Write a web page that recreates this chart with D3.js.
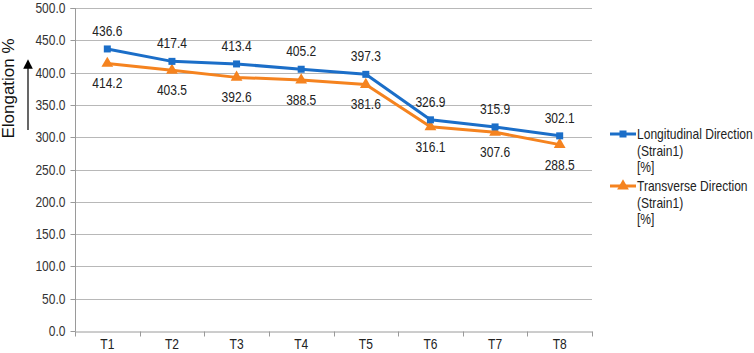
<!DOCTYPE html>
<html><head><meta charset="utf-8">
<script src="https://cdn.jsdelivr.net/npm/d3@7"></script>
<style>body{margin:0;background:#fff}svg{display:block}text{font-family:"Liberation Sans",Arial,sans-serif}</style>
</head><body><svg id="c" width="754" height="353"></svg>
<script>
const categories = ["T1","T2","T3","T4","T5","T6","T7","T8"];
const longitudinal = [436.6,417.4,413.4,405.2,397.3,326.9,315.9,302.1];
const transverse = [414.2,403.5,392.6,388.5,381.6,316.1,307.6,288.5];
const yTicks = [0,50,100,150,200,250,300,350,400,450,500];
const seriesNames = [["Longitudinal Direction","(Strain1)","[%]"],["Transverse Direction","(Strain1)","[%]"]];

const FONT = "Liberation Sans, Arial, sans-serif";
const SX = 0.86;
const svg = d3.select("#c");
const L=75, R=592, T=8, B=331;
const x = d3.scaleBand().domain(categories).range([L,R]);
const y = d3.scaleLinear().domain([0,500]).range([B,T]);
const blue="#1b6ec8", orange="#f5831f";

function ntext(parent, px, py, str, anchor){
  return parent.append("text").attr("transform",`translate(${px},${py}) scale(${SX},1)`)
    .attr("text-anchor",anchor||"start").attr("font-size",14).attr("fill","#222")
    .attr("font-family",FONT).text(str);
}

// grid
svg.append("g").selectAll("line").data(yTicks.filter(d=>d>0)).join("line")
  .attr("x1",L).attr("x2",R).attr("y1",d=>Math.round(y(d))+0.5).attr("y2",d=>Math.round(y(d))+0.5)
  .attr("stroke","#b8b8b8").attr("stroke-width",1);

// y axis
const ya = svg.append("g").attr("transform",`translate(${L+0.5},0)`)
  .call(d3.axisLeft(y).tickValues(yTicks).tickFormat(d3.format(".1f")).tickSize(5).tickPadding(3));
ya.select(".domain").attr("stroke","#9a9a9a").attr("d",`M-5,${Math.round(y(500))+0.5}H0V${Math.round(B)+0.5}`);
ya.selectAll(".tick line").attr("stroke","#9a9a9a");
ya.selectAll(".tick").attr("transform",d=>`translate(0,${Math.round(y(d))+0.5})`);
ya.selectAll(".tick text").attr("font-size",14).attr("fill","#333").attr("font-family",FONT)
  .attr("x",null).attr("transform",`translate(-10,0) scale(${SX},1)`);

// x axis
const xa = svg.append("g").attr("transform",`translate(0,${B+0.5})`)
  .call(d3.axisBottom(x).tickSize(0).tickPadding(8));
xa.select(".domain").attr("stroke","#9a9a9a");
xa.selectAll(".tick text").attr("font-size",14).attr("fill","#222").attr("font-family",FONT)
  .attr("transform",`scale(${SX},1)`);
const bounds = categories.map(c=>x(c)).concat([R]);
xa.append("g").selectAll("line").data(bounds).join("line")
  .attr("x1",d=>Math.round(d)+0.5).attr("x2",d=>Math.round(d)+0.5).attr("y1",0).attr("y2",5)
  .attr("stroke","#9a9a9a");

const cx = c=>x(c)+x.bandwidth()/2;
const line = d3.line().x((d,i)=>cx(categories[i])).y(d=>y(d));

// series
svg.append("path").datum(transverse).attr("d",line).attr("fill","none").attr("stroke",orange).attr("stroke-width",3).attr("stroke-linejoin","round");
svg.append("path").datum(longitudinal).attr("d",line).attr("fill","none").attr("stroke",blue).attr("stroke-width",3).attr("stroke-linejoin","round");

const tri = d3.symbol().type(d3.symbolTriangle).size(60);
svg.append("g").selectAll("path").data(transverse).join("path")
  .attr("d",tri).attr("fill",orange)
  .attr("transform",(d,i)=>`translate(${cx(categories[i])},${y(d)})`);
svg.append("g").selectAll("rect").data(longitudinal).join("rect")
  .attr("x",(d,i)=>cx(categories[i])-3.5).attr("y",d=>y(d)-3.5).attr("width",7).attr("height",7).attr("fill",blue);

// labels
const lg = svg.append("g");
longitudinal.forEach((d,i)=>ntext(lg, cx(categories[i]), y(d)-13, d.toFixed(1), "middle"));
transverse.forEach((d,i)=>ntext(lg, cx(categories[i]), y(d)+25, d.toFixed(1), "middle"));

// y title
svg.append("text").attr("transform","translate(14,88.5) rotate(-90)").attr("text-anchor","middle")
  .attr("font-family","DejaVu Sans, sans-serif").attr("font-size",17).attr("fill","#111").text("Elongation %");
svg.append("defs").append("marker").attr("id","ah").attr("viewBox","0 0 10 10").attr("refX",5).attr("refY",5)
  .attr("markerWidth",8).attr("markerHeight",10).attr("orient","auto")
  .append("path").attr("d","M0,0L10,5L0,10z").attr("fill","#000");
svg.append("line").attr("x1",28).attr("x2",28).attr("y1",130).attr("y2",64)
  .attr("stroke","#000").attr("stroke-width",1.2).attr("marker-end","url(#ah)");

// legend
const colors=[blue,orange], legY=[134,186];
seriesNames.forEach((lines,k)=>{
  const g = svg.append("g");
  g.append("line").attr("x1",610).attr("x2",636).attr("y1",legY[k]).attr("y2",legY[k]).attr("stroke",colors[k]).attr("stroke-width",3);
  if(k===0) g.append("rect").attr("x",619.5).attr("y",legY[k]-3.5).attr("width",7).attr("height",7).attr("fill",blue);
  else g.append("path").attr("d",tri).attr("fill",orange).attr("transform",`translate(623,${legY[k]})`);
  lines.forEach((t,j)=>ntext(g, 637, legY[k]+5+j*16.5, t));
});
</script></body></html>
